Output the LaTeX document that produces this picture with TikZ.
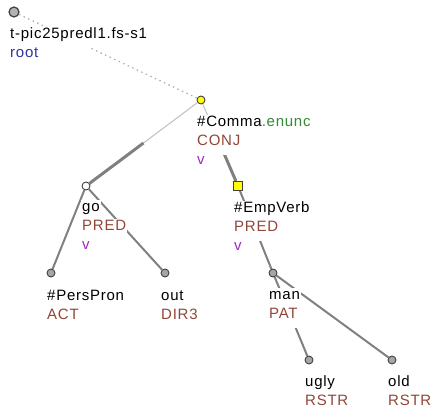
\documentclass[tikz,border=0pt]{standalone}
\usepackage{fontspec}
\newfontfamily\tf[LetterSpace=5]{Liberation Sans}
\usetikzlibrary{calc}
\definecolor{fnbrown}{RGB}{145,70,55}
\definecolor{enuncgreen}{RGB}{50,140,50}
\definecolor{vpurple}{RGB}{160,40,190}
\definecolor{rootblue}{RGB}{50,50,160}
\definecolor{edgegray}{RGB}{128,128,128}
\definecolor{marksyellow}{RGB}{255,255,0}
\pgfdeclarelayer{background}
\pgfsetlayers{background,main}
\tikzset{
  lbl/.style={anchor=base west, fill=white, inner xsep=1pt, inner ysep=0.5pt,
    text height=11pt, text depth=9pt, font=\tf\fontsize{15pt}{19pt}\selectfont},
  mk/.style={circle, draw=black!75, line width=0.9pt, minimum size=8pt, inner sep=0pt},
  grayck/.style={mk, fill=gray!70},
  rootck/.style={mk, fill=gray!60, minimum size=10pt, line width=1.2pt},
  whiteck/.style={mk, fill=white},
  yellowck/.style={mk, fill=marksyellow},
  yellowsq/.style={rectangle, draw=black!75, line width=0.9pt, fill=marksyellow, minimum size=9pt, inner sep=0pt},
  treeedge/.style={draw=edgegray, line width=2pt},
  rootedge/.style={draw=gray!60, line width=1.3pt, dash pattern=on 1.5pt off 3.5pt},
  coordthin/.style={draw=gray!50, line width=1pt},
  coordthick/.style={draw=edgegray, line width=3pt},
}
\begin{document}
\begin{tikzpicture}[x=1pt,y=-1pt]
\useasboundingbox (0,0) rectangle (433,412);
% markers
\node[rootck] (root) at (14,12) {};
\node[yellowck] (comma) at (201,100) {};
\node[whiteck] (go) at (86,186) {};
\node[yellowsq] (emp) at (238,186) {};
\node[grayck] (pers) at (51,273) {};
\node[grayck] (out) at (165,273) {};
\node[grayck] (man) at (273,273) {};
\node[grayck] (ugly) at (309,360) {};
\node[grayck] (old) at (392,360) {};
% edges
\begin{pgfonlayer}{background}
\draw[rootedge] (root) -- (comma);
\draw[coordthin] (comma) -- ($(comma.center)!0.5!(go.center)$);
\draw[coordthick] ($(comma.center)!0.5!(go.center)$) -- (go);
\draw[coordthin] (comma) -- ($(comma.center)!0.5!(emp.center)$);
\draw[coordthick] ($(comma.center)!0.5!(emp.center)$) -- (emp);
\draw[treeedge] (go) -- (pers);
\draw[treeedge] (go) -- (out);
\draw[treeedge] (emp) -- (man);
\draw[treeedge] (man) -- (ugly);
\draw[treeedge] (man) -- (old);
\end{pgfonlayer}
% labels
\node[lbl] (rootl1) at ($(root)+(-5,27)$) {t-pic25predl1.fs-s1};
\node[lbl, text=rootblue] (rootl2) at ($(root)+(-5,46)$) {root};
\node[lbl] (commal1) at ($(comma)+(-5,26)$) {\#Comma\textcolor{enuncgreen}{.enunc}};
\node[lbl, text=fnbrown] (commal2) at ($(comma)+(-5,45)$) {CONJ};
\node[lbl, text=vpurple] (commal3) at ($(comma)+(-5,64)$) {v};
\node[lbl] (gol1) at ($(go)+(-5,25)$) {go};
\node[lbl, text=fnbrown] (gol2) at ($(go)+(-5,44)$) {PRED};
\node[lbl, text=vpurple] (gol3) at ($(go)+(-5,63)$) {v};
\node[lbl] (empl1) at ($(emp)+(-5,26)$) {\#EmpVerb};
\node[lbl, text=fnbrown] (empl2) at ($(emp)+(-5,45)$) {PRED};
\node[lbl, text=vpurple] (empl3) at ($(emp)+(-5,64)$) {v};
\node[lbl] (persl1) at ($(pers)+(-5,27)$) {\#PersPron};
\node[lbl, text=fnbrown] (persl2) at ($(pers)+(-5,46)$) {ACT};
\node[lbl] (outl1) at ($(out)+(-5,27)$) {out};
\node[lbl, text=fnbrown] (outl2) at ($(out)+(-5,46)$) {DIR3};
\node[lbl] (manl1) at ($(man)+(-5,26)$) {man};
\node[lbl, text=fnbrown] (manl2) at ($(man)+(-5,45)$) {PAT};
\node[lbl] (uglyl1) at ($(ugly)+(-5,26)$) {ugly};
\node[lbl, text=fnbrown] (uglyl2) at ($(ugly)+(-5,45)$) {RSTR};
\node[lbl] (oldl1) at ($(old)+(-5,26)$) {old};
\node[lbl, text=fnbrown] (oldl2) at ($(old)+(-5,45)$) {RSTR};
\end{tikzpicture}
\end{document}
